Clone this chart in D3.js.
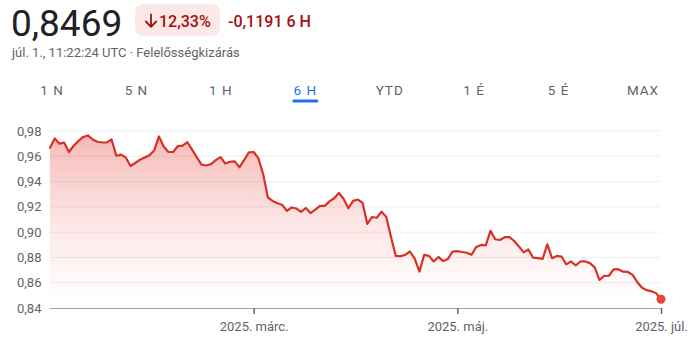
<!DOCTYPE html>
<html>
<head>
<meta charset="utf-8">
<script src="https://cdn.jsdelivr.net/npm/d3@7"></script>
<style>
  body { margin: 0; background: #fff; }
  svg { display: block; font-family: Roboto, "Noto Sans", sans-serif; }
</style>
</head>
<body>
<div id="chart"></div>
<script>
// USD/EUR, 6 hónap, egy érték minden kereskedési napra (jan. 1. - júl. 1.)
var startDay = "2025-01-01", endDay = "2025-07-01";
var values = [
  0.9668,0.9741,0.9700,0.9708,0.9634,0.9683,0.9721,0.9753,0.9765,0.9733,
  0.9715,0.9709,0.9710,0.9733,0.9604,0.9613,0.9591,0.9523,0.9547,0.9573,
  0.9591,0.9609,0.9646,0.9757,0.9677,0.9634,0.9634,0.9681,0.9685,0.9711,
  0.9652,0.9591,0.9534,0.9527,0.9538,0.9569,0.9594,0.9543,0.9557,0.9560,
  0.9513,0.9571,0.9632,0.9634,0.9583,0.9460,0.9274,0.9247,0.9229,0.9217,
  0.9168,0.9195,0.9187,0.9160,0.9191,0.9151,0.9179,0.9208,0.9208,0.9243,
  0.9268,0.9310,0.9262,0.9189,0.9247,0.9258,0.9231,0.9065,0.9120,0.9114,
  0.9162,0.9120,0.8962,0.8812,0.8810,0.8820,0.8847,0.8790,0.8688,0.8821,
  0.8812,0.8768,0.8804,0.8771,0.8788,0.8847,0.8850,0.8843,0.8837,0.8821,
  0.8883,0.8899,0.8896,0.9010,0.8944,0.8938,0.8960,0.8960,0.8930,0.8887,
  0.8840,0.8863,0.8798,0.8794,0.8788,0.8903,0.8794,0.8812,0.8807,0.8745,
  0.8768,0.8737,0.8768,0.8768,0.8755,0.8721,0.8622,0.8654,0.8655,0.8705,
  0.8707,0.8687,0.8685,0.8662,0.8604,0.8560,0.8541,0.8532,0.8516,0.8469
];
var yTicks = [0.84, 0.86, 0.88, 0.90, 0.92, 0.94, 0.96, 0.98];
var xTickDates = ["2025-03-01", "2025-05-01", "2025-07-01"];
var xTickLabels = ["2025. márc.", "2025. máj.", "2025. júl."];
var tabs = ["1 N", "5 N", "1 H", "6 H", "YTD", "1 É", "5 É", "MAX"];
var activeTab = "6 H";

var parse = d3.timeParse("%Y-%m-%d");
// kereskedési napok (hétköznapok)
var days = d3.timeDay.range(parse(startDay), d3.timeDay.offset(parse(endDay), 1))
  .filter(function(d) { return d.getDay() !== 0 && d.getDay() !== 6; });
var data = values.map(function(v, i) { return { i: i, date: days[i], v: v }; });
var last = data[data.length - 1];

var hu = d3.formatLocale({ decimal: ",", thousands: " ", grouping: [3], currency: ["", " Ft"] });
var fmt2 = hu.format(".2f");

var W = 690, H = 348;
var svg = d3.select("#chart").append("svg").attr("width", W).attr("height", H);

// fejléc
svg.append("text").attr("x", 11).attr("y", 36).attr("font-size", 37).attr("fill", "#202124")
  .text(hu.format(".4f")(last.v));
svg.append("rect").attr("x", 135).attr("y", 4).attr("width", 85).attr("height", 32).attr("rx", 8).attr("fill", "#fce8e6");
svg.append("path").attr("fill", "none").attr("stroke", "#a50e0e").attr("stroke-width", 1.8)
  .attr("stroke-linecap", "round").attr("stroke-linejoin", "round")
  .attr("d", "M151,14.5V26.5M145.8,21.5L151,26.8L156.2,21.5");
svg.append("text").attr("x", 159).attr("y", 26.5).attr("font-size", 16).attr("font-weight", 500).attr("fill", "#a50e0e")
  .text("12,33%");
svg.append("text").attr("x", 228).attr("y", 26.5).attr("font-size", 16).attr("font-weight", 500).attr("fill", "#a50e0e")
  .text("-0,1191 6 H");
svg.append("text").attr("x", 12).attr("y", 57).attr("font-size", 13).attr("fill", "#5f6368")
  .text("júl. 1., 11:22:24 UTC · Felelősségkizárás");

// idősávok
var tabX = d3.scalePoint().domain(tabs).range([52, 643]);
svg.selectAll(".tab").data(tabs).enter().append("text").attr("class", "tab")
  .attr("x", function(d) { return tabX(d); }).attr("y", 95)
  .attr("text-anchor", "middle").attr("font-size", 13.5).attr("font-weight", 400)
  .attr("letter-spacing", 1)
  .attr("fill", function(d) { return d === activeTab ? "#1a73e8" : "#5f6368"; })
  .text(function(d) { return d; });
svg.append("rect").attr("x", tabX(activeTab) - 13).attr("y", 99.5).attr("width", 26).attr("height", 3)
  .attr("rx", 1.5).attr("fill", "#1a73e8");

// skálák
var x = d3.scaleLinear().domain([0, days.length - 1]).range([50, 661]);
var y = d3.scaleLinear().domain([0.84, 0.98]).range([308, 131]);

// rácsvonalak
svg.append("g").selectAll("line").data(yTicks.slice(1)).enter().append("line")
  .attr("x1", 50).attr("x2", 660)
  .attr("y1", function(d) { return y(d); }).attr("y2", function(d) { return y(d); })
  .attr("stroke", "#eceef0").attr("stroke-width", 1);

svg.append("g").selectAll("text").data(yTicks).enter().append("text")
  .attr("x", 17).attr("y", function(d) { return y(d) + 4.5; })
  .attr("font-size", 13).attr("fill", "#5f6368")
  .text(function(d) { return fmt2(d); });

// kitöltés
var grad = svg.append("defs").append("linearGradient").attr("id", "fillGrad")
  .attr("gradientUnits", "userSpaceOnUse").attr("x1", 0).attr("x2", 0).attr("y1", 131).attr("y2", 300);
grad.append("stop").attr("offset", 0).attr("stop-color", "#e8453c").attr("stop-opacity", 0.38);
grad.append("stop").attr("offset", 0.55).attr("stop-color", "#e8453c").attr("stop-opacity", 0.13);
grad.append("stop").attr("offset", 1).attr("stop-color", "#e8453c").attr("stop-opacity", 0);

var area = d3.area().x(function(d) { return x(d.i); }).y0(y(0.84)).y1(function(d) { return y(d.v); });
svg.append("path").datum(data).attr("d", area).attr("fill", "url(#fillGrad)");

var line = d3.line().x(function(d) { return x(d.i); }).y(function(d) { return y(d.v); });
svg.append("path").datum(data).attr("d", line).attr("fill", "none")
  .attr("stroke", "#d93025").attr("stroke-width", 2.2).attr("stroke-linejoin", "round").attr("stroke-linecap", "round");

// x tengely
var tickIdx = xTickDates.map(function(s) {
  var t = parse(s);
  return d3.bisector(function(d) { return d; }).left(days, t);
});
var xAxis = d3.axisBottom(x).tickValues(tickIdx).tickSize(6).tickPadding(8)
  .tickFormat(function(d, k) { return xTickLabels[k]; });
var gx = svg.append("g").attr("transform", "translate(0," + y(0.84) + ")").call(xAxis);
gx.select(".domain").attr("stroke", "#a0a4a8").attr("d", "M50,0.5H661");
gx.selectAll(".tick line").attr("stroke", "#5f6368").attr("stroke-width", 1.5);
gx.selectAll(".tick text").attr("font-size", 13).attr("fill", "#5f6368").attr("font-family", "Roboto, sans-serif");

// utolsó pont
svg.append("circle").attr("cx", x(last.i)).attr("cy", y(last.v)).attr("r", 4.5).attr("fill", "#ea4335");
</script>
</body>
</html>
